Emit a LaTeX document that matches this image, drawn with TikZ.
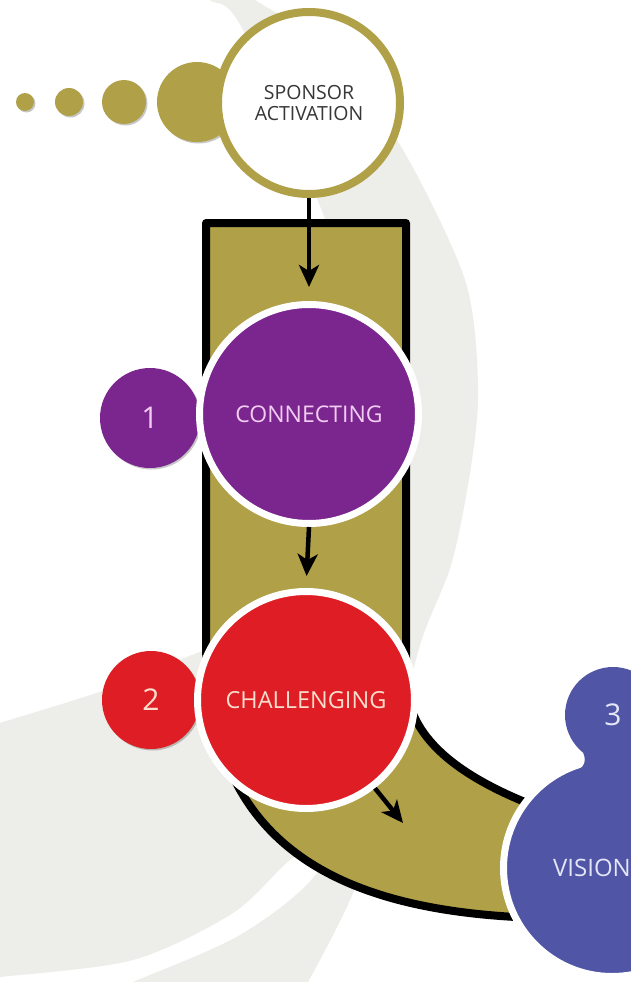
\documentclass[tikz,border=0pt]{standalone}
\usepackage{fontspec}
\setmainfont{Open Sans}
\usetikzlibrary{arrows.meta,shadows}
\definecolor{gold}{RGB}{176,160,72}
\definecolor{bggray}{RGB}{237,238,233}
\definecolor{cpurple}{RGB}{123,38,143}
\definecolor{cred}{RGB}{223,29,37}
\definecolor{cblue}{RGB}{80,85,165}
\definecolor{txtpurple}{RGB}{242,205,242}
\definecolor{txtred}{RGB}{250,222,205}
\definecolor{txtblue}{RGB}{228,230,248}
\definecolor{txtdark}{RGB}{55,55,55}
\begin{document}
\begin{tikzpicture}[x=1pt,y=-1pt]
\tikzset{
 shad/.style={drop shadow={shadow xshift=1.5pt,shadow yshift=-1.5pt,opacity=0.22,fill=black}},
 dotc/.style={circle,fill=gold,inner sep=0pt,shad},
 bigc/.style={circle,draw=white,line width=7pt,inner sep=0pt,shad},
 bub/.style={circle,inner sep=0pt,shad,font=\fontsize{30}{32}\selectfont},
 arr/.style={line width=4.5pt,-{Stealth[length=22pt,width=20pt,inset=6pt]}},
 band/.style={fill=gold,draw=black,line width=8pt,line join=round},
 bg/.style={fill=bggray}
}
\useasboundingbox (0,0) rectangle (631,982);
\clip (0,0) rectangle (631,982);
\fill[white] (0,0) rectangle (631,982);
% background crescent
\fill[bg] plot[smooth] coordinates {(200,-15) (210,0) (243,30) (336,250) (378,450) (378,620) (355,780) (317,873) (240,935) (133,982) (90,1000)}
  -- plot[smooth] coordinates {(298,1000) (353,893) (390,770) (420,645) (452,562) (472,460) (478,383) (465,280) (403,150) (330,50) (255,0) (235,-15)} -- cycle;
% background lower left
\fill[bg] plot[smooth] coordinates {(-20,730) (0,723) (105,690) (200,652) (290,625) (355,680) (365,770) (330,840) (290,860) (233,913) (133,960) (0,977) (-20,979)} -- cycle;
% dots
\node[dotc,minimum size=18pt] (d1) at (25,102) {};
\node[dotc,minimum size=28pt] (d2) at (69,102) {};
\node[dotc,minimum size=44pt] (d3) at (124,102) {};
\node[dotc,minimum size=80pt] (d4) at (197,102) {};
\node[circle,draw=gold,line width=8pt,fill=white,minimum size=182pt,inner sep=0pt,shad,align=center,
  font=\fontsize{19.5}{21}\selectfont,text=txtdark] (sponsor) at (309,103) {SPONSOR\\ACTIVATION};
% band
\draw[band] (206,223) -- (406,223) -- (406,680) .. controls (407,730) and (445,772) .. (540,808)
  -- (540,918) .. controls (330,912) and (206,840) .. (206,640) -- cycle;
% circles
\node[bub,fill=cpurple,minimum size=100pt,text=txtpurple] (b1) at (150,418) {1};
\node[bigc,fill=cpurple,minimum size=219pt,text=txtpurple,font=\fontsize{23}{25}\selectfont] (connecting) at (309,414) {CONNECTING};
\node[bub,fill=cred,minimum size=98pt,text=txtred] (b2) at (151,700) {2};
\node[bigc,fill=cred,minimum size=217pt,text=txtred,font=\fontsize{23.5}{25}\selectfont] (challenging) at (306,700) {CHALLENGING};
\node[bigc,fill=cblue,minimum size=217pt,
  label={[text=txtblue,font=\fontsize{24}{26}\selectfont,xshift=-20pt]center:VISION}] (vision) at (612,868) {};
\node[bub,fill=cblue,minimum size=96pt,text=txtblue] (b3) at (613,715) {3};
\fill[cblue] (583,752) .. controls (588,764) and (582,770) .. (570,773) -- (631,773) -- (631,752) -- cycle;
% arrows
\coordinate (a3end) at (403,823);
\draw[arr,shorten >=14pt] (sponsor.south) -- (connecting.north);
\draw[arr,shorten >=12pt] (connecting.south) -- (challenging.north);
\draw[arr] (challenging.-52) -- (a3end);
\end{tikzpicture}
\end{document}
